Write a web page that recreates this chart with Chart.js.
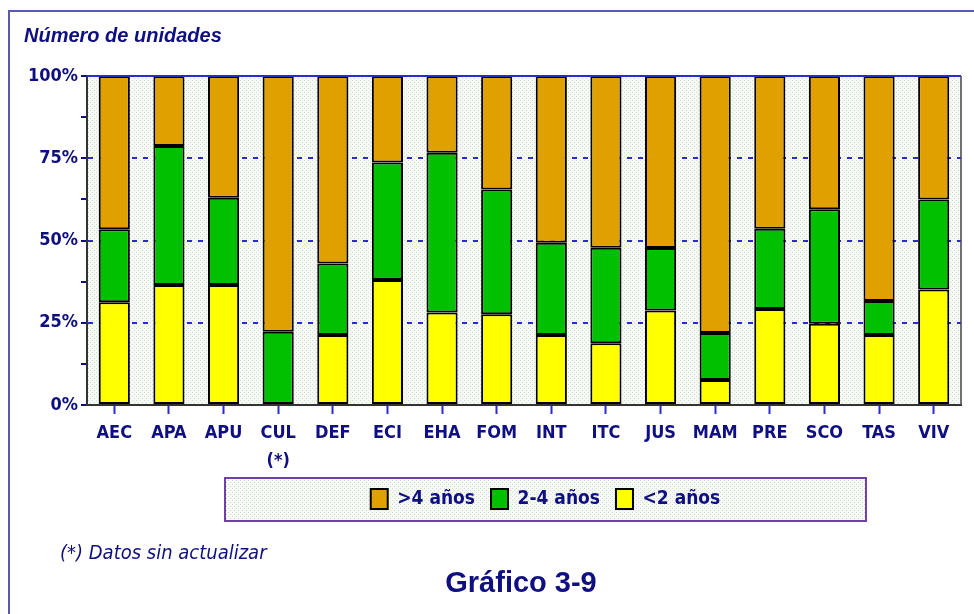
<!DOCTYPE html>
<html>
<head>
<meta charset="utf-8">
<script src="https://cdn.jsdelivr.net/npm/chart.js@4.4.1/dist/chart.umd.min.js"></script>
<style>
  html, body { margin: 0; padding: 0; background: #ffffff; }
  #wrap { position: relative; width: 974px; height: 614px; overflow: hidden; }
  #frame { position: absolute; left: 8px; top: 10px; width: 980px; height: 620px;
           border-left: 2px solid #5a5aaa; border-top: 2px solid #5a5aaa; box-sizing: border-box; }
  canvas { position: absolute; left: 0; top: 0; }
  .txt { position: absolute; color: #0f0f82; white-space: nowrap; }
  #ytitle { left: 24px; top: 24px; font: italic bold 20px "Liberation Sans", Arial, sans-serif; }
  #note { left: 60px; top: 540px; font: italic 20px "Liberation Sans Narrow", "Arial Narrow", "DejaVu Sans Condensed", sans-serif; }
  #caption { left: 0; width: 1042px; text-align: center; top: 566px; font: bold 29px "Liberation Sans", Arial, sans-serif; }
</style>
</head>
<body>
<div id="wrap">
  <div id="frame"></div>
  <canvas id="c" width="974" height="614"></canvas>
  <div class="txt" id="ytitle">Número de unidades</div>
  <div class="txt" id="note">(*) Datos sin actualizar</div>
  <div class="txt" id="caption">Gráfico 3-9</div>
</div>
<script>
// ---- data (percent of units) ----
const categories = ['AEC','APA','APU',['CUL','(*)'],'DEF','ECI','EHA','FOM','INT','ITC','JUS','MAM','PRE','SCO','TAS','VIV'];
const menos2 = [31.2, 36.5, 36.5, 0.0, 21.3, 38.0, 28.1, 27.6, 21.3, 18.8, 28.7, 7.6, 29.2, 24.7, 21.3, 35.1];
const de2a4  = [22.2, 42.2, 26.5, 22.3, 21.7, 35.7, 48.6, 37.9, 28.0, 29.0, 19.0, 14.3, 24.4, 34.8, 10.3, 27.4];
const mas4   = [46.6, 21.3, 37.0, 77.7, 57.0, 26.3, 23.3, 34.5, 50.7, 52.2, 52.3, 78.1, 46.4, 40.5, 68.4, 37.5];
const seriesNames = ['<2 años', '2-4 años', '>4 años'];
const yTicks = [0, 25, 50, 75, 100];

const NAVY = '#0f0f82';
const NARROW = '"Liberation Sans Narrow", "Arial Narrow", "DejaVu Sans Condensed", sans-serif';

function makeDots() {
  const p = document.createElement('canvas');
  p.width = 4; p.height = 4;
  const g = p.getContext('2d');
  g.fillStyle = '#f6f8f5'; g.fillRect(0, 0, 4, 4);
  g.fillStyle = '#cfe0cc'; g.fillRect(0, 0, 1, 1); g.fillRect(2, 2, 1, 1);
  return p;
}
const dotsCanvas = makeDots();

const decor = {
  id: 'decor',
  afterLayout(chart) {
    const lg = chart.legend;
    if (lg) { lg.left = 224; lg.right = 867; lg.top = 473; lg.bottom = 516; }
  },
  beforeDraw(chart) {
    const ctx = chart.ctx, a = chart.chartArea;
    const pat = ctx.createPattern(dotsCanvas, 'repeat');
    ctx.save();
    ctx.fillStyle = pat;
    ctx.fillRect(a.left, a.top, a.right - a.left, a.bottom - a.top);
    // legend box
    ctx.fillRect(225, 478, 641, 43);
    ctx.strokeStyle = '#6f3fa5'; ctx.lineWidth = 2;
    ctx.strokeRect(225, 478, 641, 43);
    ctx.restore();
  },
  afterDatasetsDraw(chart) {
    const ctx = chart.ctx, a = chart.chartArea, y = chart.scales.y;
    ctx.save();
    ctx.strokeStyle = '#2a2ad0'; ctx.lineWidth = 2;
    const yt = Math.round(y.getPixelForValue(100));
    ctx.beginPath(); ctx.moveTo(a.left, yt); ctx.lineTo(a.right, yt); ctx.stroke();
    ctx.strokeStyle = '#444'; ctx.lineWidth = 1.5;
    ctx.beginPath(); ctx.moveTo(a.right, a.top); ctx.lineTo(a.right, a.bottom); ctx.stroke();
    ctx.restore();
  }
};

const colors = ['#ffff00', '#00c000', '#e0a000'];
const values = [menos2, de2a4, mas4];

new Chart(document.getElementById('c'), {
  type: 'bar',
  data: {
    labels: categories,
    datasets: values.map((v, i) => ({
      label: seriesNames[i],
      data: v,
      backgroundColor: colors[i],
      borderColor: '#000000',
      borderWidth: 2,
      borderSkipped: false,
      categoryPercentage: 1.0,
      barPercentage: 0.57
    }))
  },
  options: {
    responsive: false,
    animation: false,
    layout: { padding: { left: 0, top: 76, right: 13, bottom: 0 } },
    plugins: {
      tooltip: { enabled: false },
      legend: {
        position: 'bottom',
        reverse: true,
        maxHeight: 1,
        labels: {
          boxWidth: 17, boxHeight: 20, padding: 16,
          color: NAVY,
          font: { family: NARROW, size: 19, weight: 'bold' }
        }
      }
    },
    scales: {
      x: {
        stacked: true,
        afterFit(s) { s.height = 208; },
        grid: { display: true, offset: false, drawOnChartArea: false, drawTicks: true,
                tickLength: 9, tickColor: '#2a2ad0', tickWidth: 2, color: 'rgba(0,0,0,0)' },
        border: { display: true, color: '#333333', width: 2 },
        ticks: { color: NAVY, padding: 5, autoSkip: false, maxRotation: 0, minRotation: 0,
                 font: { family: NARROW, size: 18, weight: 'bold', lineHeight: 1.55 } }
      },
      y: {
        stacked: true,
        min: 0, max: 100,
        afterFit(s) { s.width = 87; },
        afterBuildTicks(s) {
          const t = [];
          for (let v = 0; v <= 100; v += 12.5) t.push({ value: v });
          s.ticks = t;
        },
        grid: {
          drawTicks: true, tickLength: 6, tickWidth: 2, tickColor: NAVY, lineWidth: 2,
          color: (c) => (c.tick && yTicks.includes(c.tick.value) && c.tick.value > 0 && c.tick.value < 100) ? '#2a2ad0' : 'rgba(0,0,0,0)'
        },
        border: { display: true, color: '#333333', width: 2, dash: [5, 6] },
        ticks: {
          color: NAVY, padding: 3,
          font: { family: NARROW, size: 18, weight: 'bold' },
          callback: (v) => yTicks.includes(v) ? v + '%' : ''
        }
      }
    }
  },
  plugins: [decor]
});
</script>
</body>
</html>
